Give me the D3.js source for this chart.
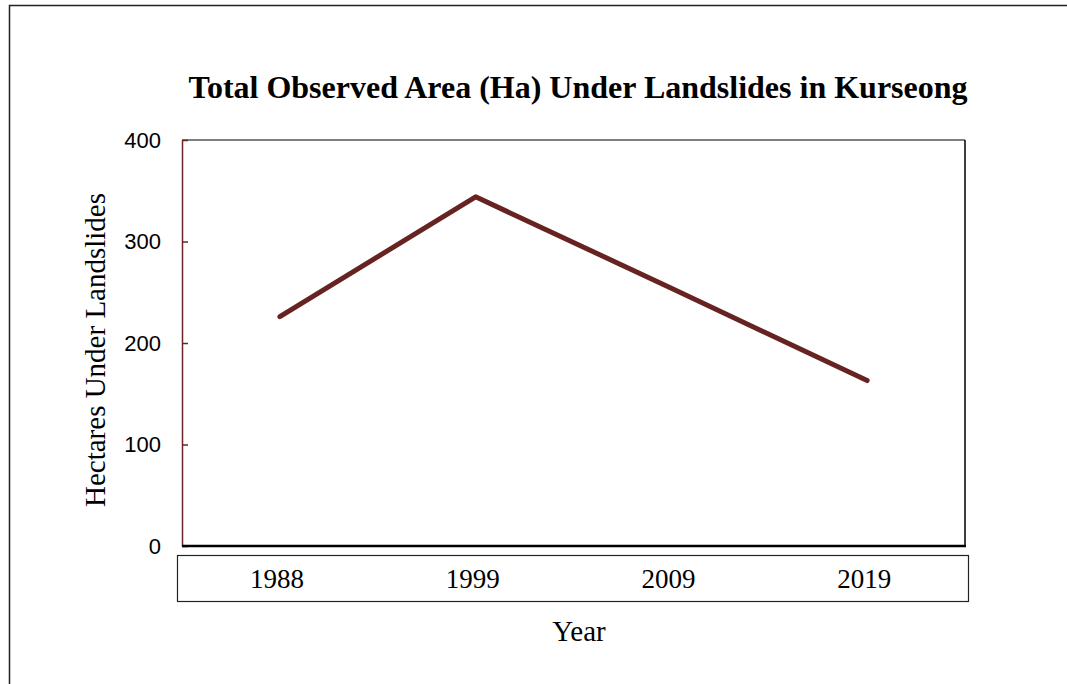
<!DOCTYPE html>
<html>
<head>
<meta charset="utf-8">
<script src="https://cdn.jsdelivr.net/npm/d3@7"></script>
<style>
  body { margin: 0; background: #fff; }
</style>
</head>
<body>
<div id="chart"></div>
<script>
var years = ['1988', '1999', '2009', '2019'];
var hectares = [226, 344, 254, 163];
var yTicks = [0, 100, 200, 300, 400];

var w = 1067, h = 684;
var plotL = 182, plotR = 965, plotT = 140, plotB = 546;

var svg = d3.select('#chart').append('svg')
  .attr('width', w)
  .attr('height', h);

svg.append('rect')
  .attr('x', 9.5).attr('y', 5.5)
  .attr('width', 1070).attr('height', 700)
  .attr('fill', 'white')
  .attr('stroke', '#222')
  .attr('stroke-width', 1.5);

var x = d3.scalePoint()
  .domain(years)
  .range([plotL, plotR])
  .padding(0.5);

var y = d3.scaleLinear()
  .domain([0, 400])
  .range([plotB, plotT]);

// plot frame
svg.append('line')
  .attr('x1', plotL).attr('x2', plotR)
  .attr('y1', plotT).attr('y2', plotT)
  .attr('stroke', '#000').attr('stroke-width', 1.2);
svg.append('line')
  .attr('x1', plotR).attr('x2', plotR)
  .attr('y1', plotT).attr('y2', plotB)
  .attr('stroke', '#000').attr('stroke-width', 1.5);

// y axis, ticks point inward
var yAxis = svg.append('g')
  .attr('transform', 'translate(' + plotL + ',0)')
  .call(d3.axisLeft(y).tickValues(yTicks).tickSizeInner(-6).tickSizeOuter(0).tickPadding(21));
yAxis.select('.domain').attr('stroke', '#6b2424').attr('stroke-width', 1.5);
yAxis.selectAll('.tick line').attr('stroke', '#6b2424').attr('stroke-width', 1.5);
yAxis.selectAll('text')
  .attr('font-family', 'Liberation Sans, Arial, sans-serif')
  .attr('font-size', 22)
  .attr('fill', '#000');

// x base line
svg.append('line')
  .attr('x1', plotL).attr('x2', plotR + 1)
  .attr('y1', plotB).attr('y2', plotB)
  .attr('stroke', '#000').attr('stroke-width', 2.5);

// category box
svg.append('rect')
  .attr('x', 177.5).attr('y', 555.5)
  .attr('width', 791).attr('height', 46)
  .attr('fill', 'none')
  .attr('stroke', '#222')
  .attr('stroke-width', 1.2);
svg.append('g').selectAll('text')
  .data(years)
  .join('text')
  .attr('x', function(d) { return x(d) - 3; })
  .attr('y', 588)
  .attr('text-anchor', 'middle')
  .attr('font-family', 'Liberation Serif, Times New Roman, serif')
  .attr('font-size', 27)
  .text(function(d) { return d; });

// line
var line = d3.line()
  .x(function(d, i) { return x(years[i]); })
  .y(function(d) { return y(d); });
svg.append('path')
  .datum(hectares)
  .attr('d', line)
  .attr('fill', 'none')
  .attr('stroke', '#672322')
  .attr('stroke-width', 5)
  .attr('stroke-linecap', 'round')
  .attr('stroke-linejoin', 'round');

// titles
svg.append('text')
  .attr('x', 578).attr('y', 98)
  .attr('text-anchor', 'middle')
  .attr('font-family', 'Liberation Serif, Times New Roman, serif')
  .attr('font-weight', 'bold')
  .attr('font-size', 32)
  .text('Total Observed Area (Ha) Under Landslides in Kurseong');

svg.append('text')
  .attr('transform', 'translate(105,350) rotate(-90)')
  .attr('text-anchor', 'middle')
  .attr('font-family', 'Liberation Serif, Times New Roman, serif')
  .attr('font-size', 29)
  .text('Hectares Under Landslides');

svg.append('text')
  .attr('x', 579).attr('y', 641)
  .attr('text-anchor', 'middle')
  .attr('font-family', 'Liberation Serif, Times New Roman, serif')
  .attr('font-size', 29)
  .text('Year');
</script>
</body>
</html>
